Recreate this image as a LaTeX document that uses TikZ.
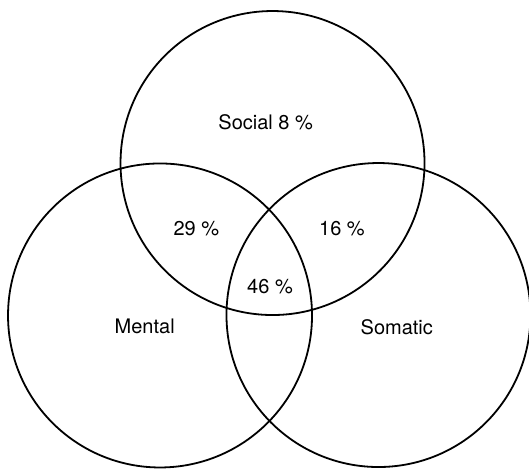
\documentclass[tikz,border=0pt]{standalone}
\usepackage{fontspec}
\setmainfont{TeX Gyre Heros}
\begin{document}
\begin{tikzpicture}[set/.style={line width=0.9pt}, lab/.style={font=\normalsize}]
\useasboundingbox (0,0) rectangle (9.296,8.277);
\coordinate (S) at (4.789,5.412);
\coordinate (M) at (2.812,2.733);
\coordinate (B) at (6.651,2.741);
\draw[set](S) circle(2.671);
\draw[set](M) circle(2.671);
\draw[set](B) circle(2.671);
\node[lab] (social) at (4.669,6.133){Social 8 \%};
\node[lab] (sm) at (3.451,4.258){29 \%};
\node[lab] (sb) at (6.010,4.253){16 \%};
\node[lab] (all) at (4.745,3.237){46 \%};
\node[lab] (mental) at (2.543,2.538){Mental};
\node[lab] (somatic) at (6.973,2.531){Somatic};

\end{tikzpicture}
\end{document}
